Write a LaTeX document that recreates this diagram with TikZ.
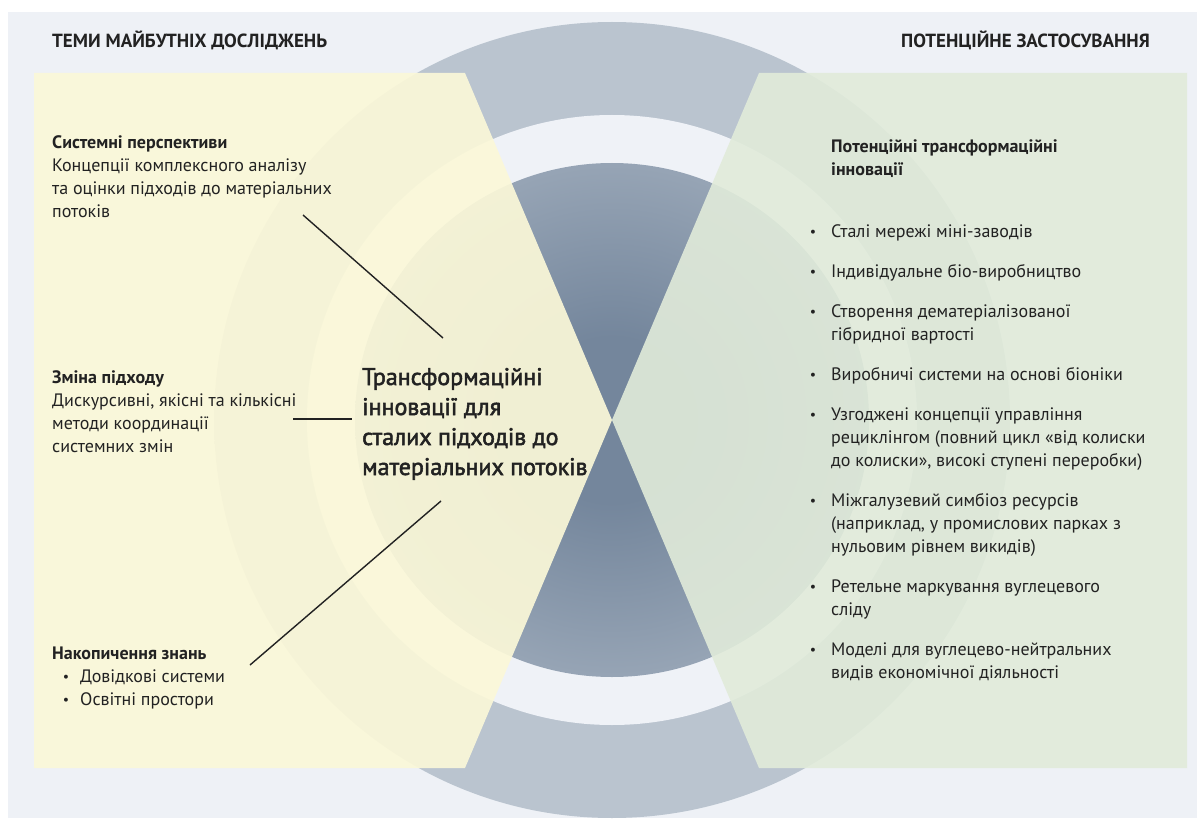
\documentclass[tikz,border=0pt]{standalone}
\usepackage{fontspec}
\setmainfont{PT Sans}
\newfontfamily\hubfont{PT Sans}[FakeBold=2.2]
\usepackage{tikz}
\usetikzlibrary{positioning}
\definecolor{pagegrey}{HTML}{EEF1F6}
\definecolor{ringdark}{HTML}{BAC4CF}
\definecolor{ringlight}{HTML}{CAD1DA}
\definecolor{bandwhite}{HTML}{EFF2F7}
\definecolor{hubdark}{HTML}{74869C}
\definecolor{hublight}{HTML}{C9D1DA}
\definecolor{panelyellow}{HTML}{FBF8D8}
\definecolor{panelgreen}{HTML}{E1EBDA}
\definecolor{inkgrey}{HTML}{222222}
\pgfdeclareradialshading{ringshade}{\pgfpoint{0bp}{0bp}}{color(0bp)=(ringdark); color(38bp)=(ringdark); color(50bp)=(ringlight)}
\pgfdeclareradialshading{hubshade}{\pgfpoint{0bp}{0bp}}{color(0bp)=(hubdark); color(8bp)=(hubdark); color(50bp)=(hublight)}
\newcommand{\itemdot}[1][15pt]{\llap{\raisebox{0.5pt}{\fontsize{14}{14}\selectfont •}\hspace{#1}}}

\begin{document}
\begin{tikzpicture}[x=1pt, y=-1pt,
    title/.style={font=\fontsize{19}{22}\selectfont\bfseries, text=inkgrey, inner sep=0},
    block/.style={font=\fontsize{18}{23}\selectfont, text=inkgrey, align=left, inner sep=0, anchor=base west},
    hubtext/.style={font=\fontsize{24}{30}\selectfont\hubfont, text=inkgrey, align=left, inner sep=0, anchor=base west}]
      \useasboundingbox (0,0) rectangle (1200,821);
      \fill[white] (0,0) rectangle (1200,821);
      \fill[pagegrey] (8,12) rectangle (1197,818);

      \shade[shading=ringshade] (612,420) circle[radius=398];
      \fill[bandwhite] (612,420) circle[radius=305];
      \shade[shading=hubshade] (612,420) circle[radius=257];

      \fill[panelyellow, fill opacity=.92] (34,73) -- (465,73) -- (612,420) -- (465,768) -- (34,768) -- cycle;
      \fill[panelgreen, fill opacity=.9] (1187,73) -- (759,73) -- (612,420) -- (759,768) -- (1187,768) -- cycle;

      \node[title, anchor=base west] (future) at (52,48) {ТЕМИ МАЙБУТНІХ ДОСЛІДЖЕНЬ};
      \node[title, anchor=base east] (usage) at (1150,48) {ПОТЕНЦІЙНЕ ЗАСТОСУВАННЯ};

      \node[block] (systems) at (52,218) {\textbf{Системні перспективи}\\Концепції комплексного аналізу\\та оцінки підходів до матеріальних\\потоків};
      \node[block] (change) at (52,452) {\textbf{Зміна підходу}\\Дискурсивні, якісні та кількісні\\методи координації\\системних змін};
      \node[block] (knowledge) at (52,705) {\textbf{Накопичення знань}\\\hspace{28pt}\itemdot[11pt]Довідкові системи\\\hspace{28pt}\itemdot[11pt]Освітні простори};

      \node[hubtext] (hub) at (362,475) {Трансформаційні\\інновації для\\сталих підходів до\\матеріальних потоків};

      \node[block] (apps) at (831,678) {\textbf{Потенційні трансформаційні}\\\textbf{інновації}\\[39pt]
        \itemdot Сталі мережі міні-заводів\\[17pt]
        \itemdot Індивідуальне біо-виробництво\\[17pt]
        \itemdot Створення дематеріалізованої\\гібридної вартості\\[17pt]
        \itemdot Виробничі системи на основі біоніки\\[17pt]
        \itemdot Узгоджені концепції управління\\рециклінгом (повний цикл «від колиски\\до колиски», високі ступені переробки)\\[17pt]
        \itemdot Міжгалузевий симбіоз ресурсів\\(наприклад, у промислових парках з\\нульовим рівнем викидів)\\[17pt]
        \itemdot Ретельне маркування вуглецевого\\сліду\\[17pt]
        \itemdot Моделі для вуглецево-нейтральних\\видів економічної діяльності};

      \coordinate (systems-end) at (303,215);
      \coordinate (hub-top) at (443,338);
      \coordinate (change-end) at (293,419);
      \coordinate (hub-left) at (352,419);
      \coordinate (knowledge-end) at (250,665);
      \coordinate (hub-bottom) at (441,501);

      \begin{scope}[every edge/.style={draw=inkgrey, line width=1.4pt}]
          \path (systems-end) edge (hub-top);
          \path (change-end) edge (hub-left);
          \path (knowledge-end) edge (hub-bottom);
      \end{scope}
\end{tikzpicture}
\end{document}
